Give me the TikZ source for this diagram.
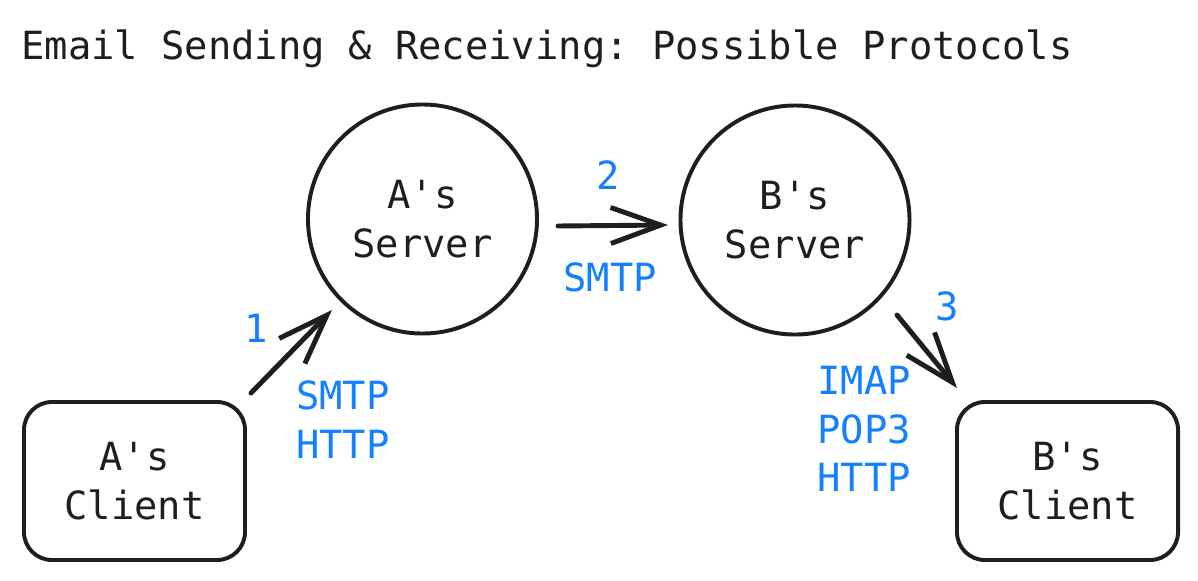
\documentclass[tikz,border=0pt]{standalone}
\usepackage{fontspec}
\setmonofont{DejaVu Sans Mono}
\usetikzlibrary{arrows.meta}
\definecolor{ink}{RGB}{30,30,30}
\definecolor{proto}{RGB}{18,128,255}

\begin{document}
\begin{tikzpicture}[x=0.025cm, y=-0.025cm,
    every node/.style={font=\ttfamily\fontsize{27.6}{34.5}\selectfont, text=ink},
    server/.style={circle, draw=ink, line width=2.8pt, inner sep=0pt,
        minimum size=5.725cm, align=center},
    client/.style={rectangle, rounded corners=0.7cm, draw=ink, line width=2.8pt,
        minimum width=5.525cm, minimum height=3.95cm, align=center},
    flow/.style={ink, line width=3.5pt, line cap=round,
        -{Straight Barb[length=1.25cm, width=0.9cm]}},
    proto/.style={text=proto, align=center}]
    \useasboundingbox (0,0) rectangle (1198,580);
    \node[anchor=base west, inner sep=0pt] (title) at (21,59) {Email Sending \& Receiving: Possible Protocols};
    \node[server] (Aserver) at (422.5,219) {A's\\Server};
    \node[server] (Bserver) at (795,220) {B's\\Server};
    \node[client] (Aclient) at (134.5,481) {A's\\Client};
    \node[client] (Bclient) at (1067.5,481) {B's\\Client};
    \draw[flow] ([shift={(116.5,-88)}]Aclient.center) -- ([shift={(-90.5,91)}]Aserver.center);
    \draw[flow] ([shift={(135.5,7)}]Aserver.center) -- ([shift={(-127,5)}]Bserver.center);
    \draw[flow] ([shift={(102,95)}]Bserver.center) -- ([shift={(-110.5,-93)}]Bclient.center);
    \node[proto] (n1) at (256,328.5) {1};
    \node[proto] (n2) at (608,175) {2};
    \node[proto] (n3) at (947,306.5) {3};
    \node[proto] (p1) at (343,419.5) {SMTP\\HTTP};
    \node[proto] (p2) at (610,277.5) {SMTP};
    \node[proto] (p3) at (864,429) {IMAP\\POP3\\HTTP};
\end{tikzpicture}
\end{document}
